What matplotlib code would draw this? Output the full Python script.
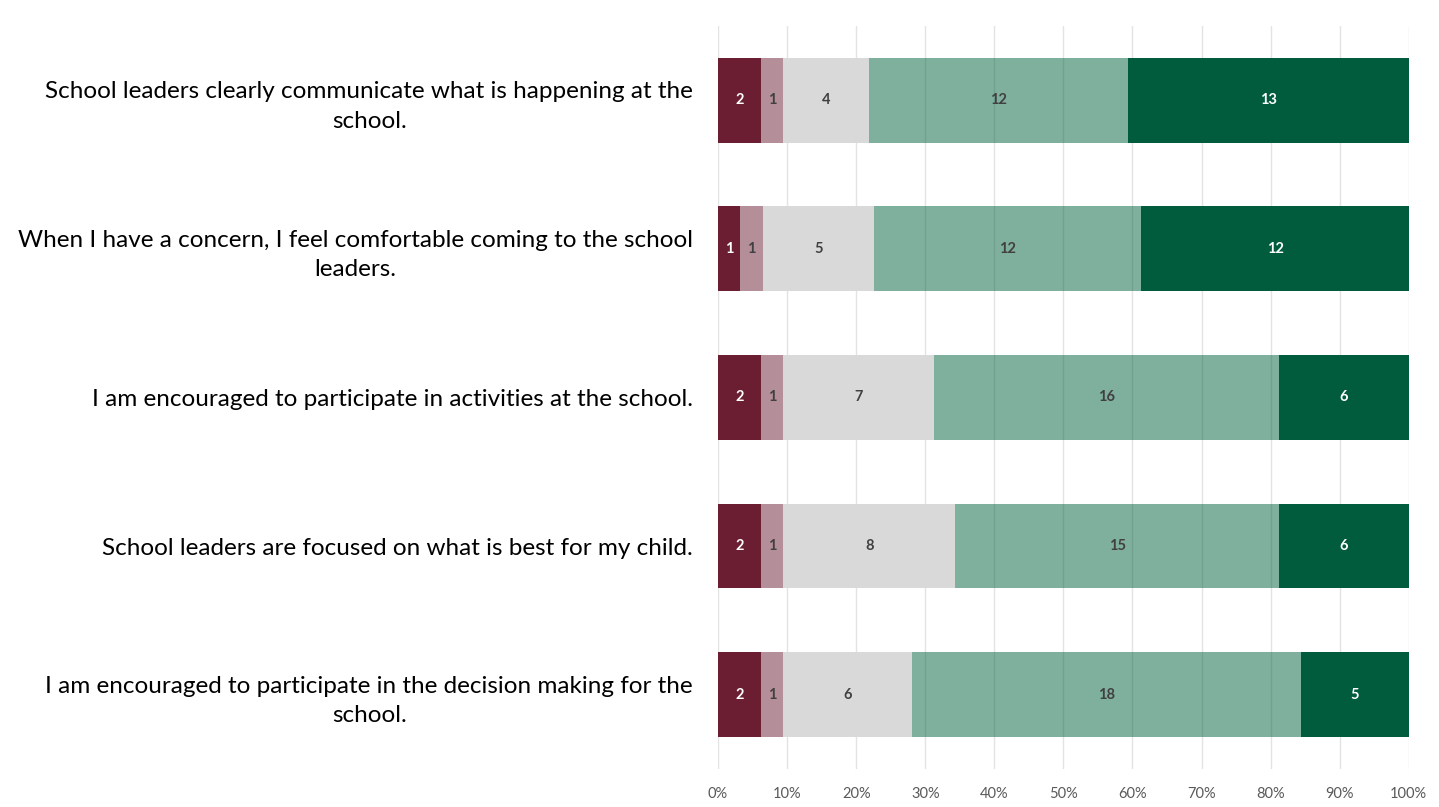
import numpy as np
import matplotlib
matplotlib.use("Agg")
import matplotlib.pyplot as plt
from matplotlib.ticker import PercentFormatter

# Survey statements, top to bottom
statements = [
    "School leaders clearly communicate what is happening at the\nschool.",
    "When I have a concern, I feel comfortable coming to the school\nleaders.",
    "I am encouraged to participate in activities at the school.",
    "School leaders are focused on what is best for my child.",
    "I am encouraged to participate in the decision making for the\nschool.",
]

# Response counts per statement (strongly disagree -> strongly agree)
strongly_disagree = [2, 1, 2, 2, 2]
disagree = [1, 1, 1, 1, 1]
neutral = [4, 5, 7, 8, 6]
agree = [12, 12, 16, 15, 18]
strongly_agree = [13, 12, 6, 6, 5]

series = [strongly_disagree, disagree, neutral, agree, strongly_agree]
colors = ["#6B1E32", "#6B1E32", "#D9D9D9", "#00603C", "#005C3C"]
alphas = [1.0, 0.5, 1.0, 0.5, 1.0]
label_colors = ["white", "#404040", "#404040", "#404040", "white"]

counts = np.array(series, dtype=float)
shares = counts / counts.sum(axis=0) * 100

fig = plt.figure(figsize=(14.39, 8.07), dpi=100)
ax = fig.add_axes([0.499, 0.047, 0.480, 0.921])

y = np.arange(len(statements))
left = np.zeros(len(statements))
for vals, share, col, a, tc in zip(series, shares, colors, alphas, label_colors):
    ax.barh(y, share, left=left, height=0.57, color=col, alpha=a, zorder=2)
    for yi, l, s, v in zip(y, left, share, vals):
        ax.text(l + s / 2, yi, str(v), ha="center", va="center",
                fontsize=10.5, fontweight="bold", color=tc, family="Lato", zorder=3)
    left += share

ax.set_xlim(0, 100)
ax.set_ylim(len(statements) - 0.5, -0.5)
ax.set_xticks(np.arange(0, 101, 10))
ax.xaxis.set_major_formatter(PercentFormatter(decimals=0))
ax.grid(axis="x", color="#E3E3E3", linewidth=1, zorder=0)
ax.set_axisbelow(True)

ax.set_yticks(y)
ax.set_yticklabels(statements, family="Lato", fontsize=17.5, color="black",
                   multialignment="center", linespacing=1.5)
ax.tick_params(axis="y", length=0, pad=18)
ax.tick_params(axis="x", length=0, pad=13, labelsize=10.5, labelcolor="#595959")
for lbl in ax.get_xticklabels():
    lbl.set_family("Lato")

for sp in ax.spines.values():
    sp.set_visible(False)

fig.savefig("out.png", dpi=100)
plt.close(fig)
